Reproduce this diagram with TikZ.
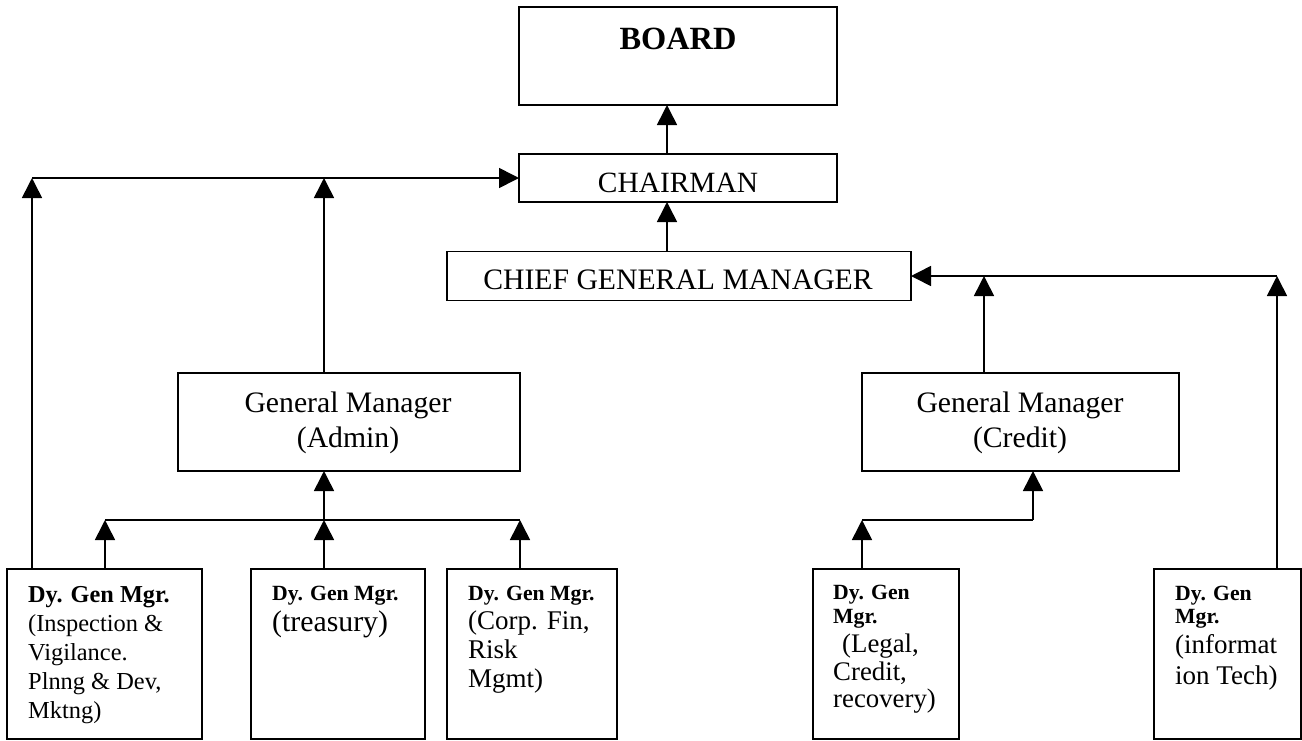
\documentclass[tikz,border=0pt]{standalone}
\usepackage{fontspec}
\setmainfont{Liberation Serif}
\usetikzlibrary{arrows.meta}
\tikzset{
  box/.style={draw, line width=1.6pt, inner sep=0pt, outer sep=0pt, rectangle},
  ln/.style={line width=1.6pt},
  arr/.style={line width=1.6pt, -{Triangle[length=20pt,width=20pt]}},
  txt/.style={inner sep=0pt, anchor=base west},
  ctxt/.style={inner sep=0pt, anchor=base},
  big/.style={font=\fontsize{29.7}{34}\selectfont},
  bsm/.style={font=\fontsize{21.7}{26}\selectfont\bfseries},
}
\begin{document}
\begin{tikzpicture}[x=1pt,y=-1pt]
\useasboundingbox (0,0) rectangle (1302,740);
% boxes
\node[box, minimum width=318, minimum height=98] (board) at (678,56) {};
\node[box, minimum width=318, minimum height=48] (chair) at (678,178) {};
\node[box, minimum width=464, minimum height=49] (cgm) at (679,276) {};
\node[box, minimum width=342, minimum height=98] (gma) at (349,422) {};
\node[box, minimum width=317, minimum height=98] (gmc) at (1020.5,422) {};
\node[box, minimum width=195, minimum height=170] (d1) at (104.5,654) {};
\node[box, minimum width=174, minimum height=170] (d2) at (338,654) {};
\node[box, minimum width=170, minimum height=170] (d3) at (532,654) {};
\node[box, minimum width=146, minimum height=170] (d4) at (886,654) {};
\node[box, minimum width=147, minimum height=170] (d5) at (1227.5,654) {};
% texts
\node[ctxt, font=\fontsize{32.4}{36}\selectfont\bfseries] (tboard) at (678,49) {BOARD};
\node[ctxt, font=\fontsize{29.4}{34}\selectfont] (tchair) at (678,192) {CHAIRMAN};
\node[ctxt, big] (tcgm) at (678,289) {CHIEF GENERAL MANAGER};
\node[ctxt, big] (tgma1) at (348,412) {General Manager};
\node[ctxt, big] (tgma2) at (348,447) {(Admin)};
\node[ctxt, big] (tgmc1) at (1020,412) {General Manager};
\node[ctxt, big] (tgmc2) at (1020,447) {(Credit)};
% box 1
\node[txt, font=\fontsize{24.3}{29}\selectfont\bfseries] (t11) at (28,602) {Dy. Gen Mgr.};
\node[txt, font=\fontsize{24.4}{29}\selectfont] (t12) at (28,631) {(Inspection \&};
\node[txt, font=\fontsize{24.4}{29}\selectfont] (t13) at (28,660) {Vigilance.};
\node[txt, font=\fontsize{24.4}{29}\selectfont] (t14) at (28,689) {Plnng \& Dev,};
\node[txt, font=\fontsize{24.4}{29}\selectfont] (t15) at (28,718) {Mktng)};
% box 2
\node[txt, bsm] (t21) at (272,600) {Dy. Gen Mgr.};
\node[txt, font=\fontsize{29.8}{34}\selectfont] (t22) at (272,631) {(treasury)};
% box 3
\node[txt, bsm] (t31) at (468,600) {Dy. Gen Mgr.};
\node[txt, font=\fontsize{27}{30}\selectfont] (t32) at (468,629) {(Corp. Fin,};
\node[txt, font=\fontsize{27}{30}\selectfont] (t33) at (468,658) {Risk};
\node[txt, font=\fontsize{27}{30}\selectfont] (t34) at (468,687) {Mgmt)};
% box 4
\node[txt, bsm] (t41) at (833,599) {Dy. Gen};
\node[txt, bsm] (t42) at (833,623) {Mgr.};
\node[txt, font=\fontsize{26.8}{30}\selectfont] (t43) at (842,652) {(Legal,};
\node[txt, font=\fontsize{26.8}{30}\selectfont] (t44) at (833,680) {Credit,};
\node[txt, font=\fontsize{26.8}{30}\selectfont] (t45) at (833,707) {recovery)};
% box 5
\node[txt, bsm] (t51) at (1175,600) {Dy. Gen};
\node[txt, bsm] (t52) at (1175,623) {Mgr.};
\node[txt, font=\fontsize{27}{30}\selectfont] (t53) at (1175,653) {(informat};
\node[txt, font=\fontsize{27}{30}\selectfont] (t54) at (1175,684) {ion Tech)};
% junction coordinates
\coordinate (j1) at (32,178);
\coordinate (j2) at (324,178);
\coordinate (k1) at (984,276);
\coordinate (k2) at (1277,276);
\coordinate (a1) at (105,520);
\coordinate (a2) at (324,520);
\coordinate (a3) at (520,520);
\coordinate (c1) at (862,520);
\coordinate (c2) at (1033,520);
% connectors
\draw[arr] ([xshift=-11pt]chair.north) -- ([xshift=-11pt]board.south);
\draw[arr] ([xshift=-12pt]cgm.north) -- ([xshift=-11pt]chair.south);
\draw[arr] (d1.north -| j1) -- (j1);
\draw[arr] (gma.north -| j2) -- (j2);
\draw[arr] (j1) -- (chair.west);
\draw[arr] (gmc.north -| k1) -- (k1);
\draw[arr] (d5.north -| k2) -- (k2);
\draw[arr] (k2) -- (cgm.east);
\draw[arr] (d1.north -| a1) -- (a1);
\draw[arr] (d2.north -| a2) -- (a2);
\draw[arr] (d3.north -| a3) -- (a3);
\draw[ln] (a1) -- (a3);
\draw[arr] (a2) -- (gma.south -| a2);
\draw[arr] (d4.north -| c1) -- (c1);
\draw[ln] (c1) -- (c2);
\draw[arr] (c2) -- (gmc.south -| c2);
\end{tikzpicture}
\end{document}
